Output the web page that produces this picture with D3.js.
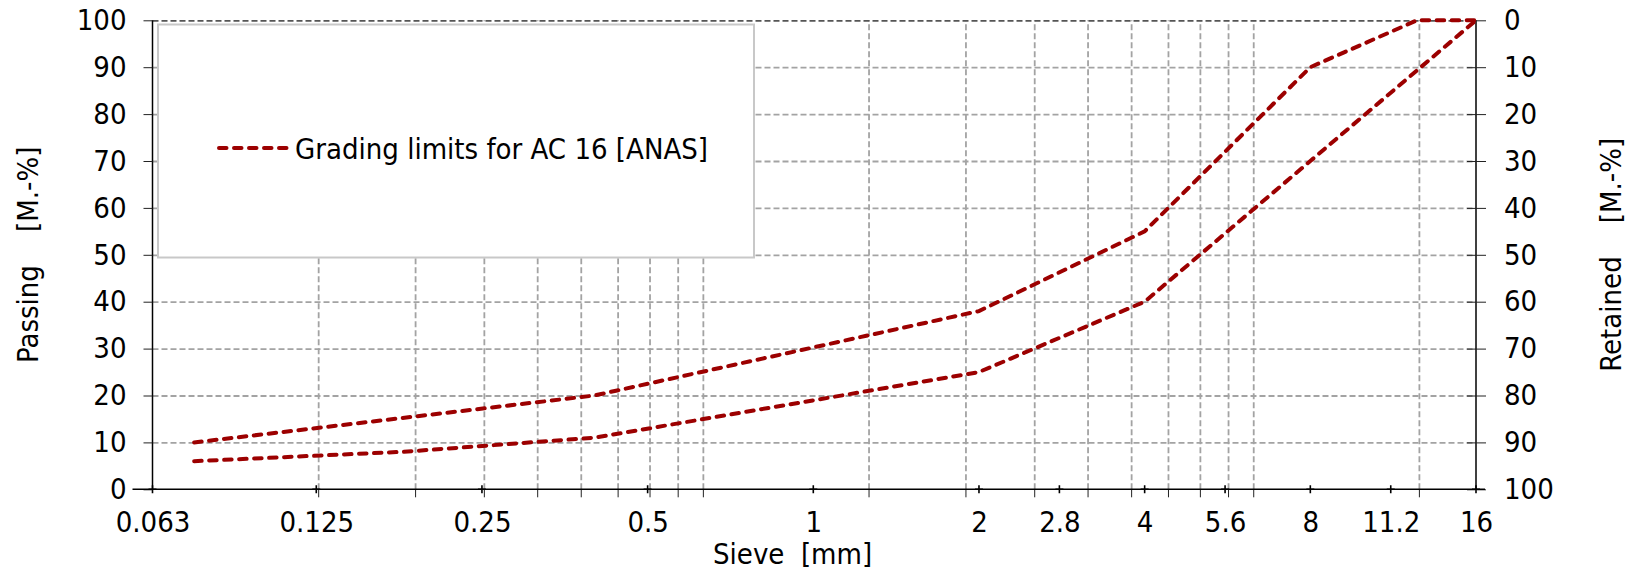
<!DOCTYPE html>
<html>
<head>
<meta charset="utf-8">
<script src="https://cdn.jsdelivr.net/npm/d3@7"></script>
<style>
  body { margin: 0; background: #fff; }
  svg text { font-family: "DejaVu Sans Condensed", "DejaVu Sans", sans-serif; font-stretch: condensed; fill: #000; }
</style>
</head>
<body>
<div id="chart"></div>
<script>
// Sieve sizes [mm] and passing [%] for the two grading limits
const upperSieves = [0.075, 0.4, 2, 4, 8, 12.5, 16];
const upperPassing = [10, 20, 38, 55, 90, 100, 100];
const lowerSieves = [0.075, 0.18, 0.4, 2, 4, 8, 16];
const lowerPassing = [6, 8, 11, 25, 40, 70, 100];

const sieveLabels = [0.063, 0.125, 0.25, 0.5, 1, 2, 2.8, 4, 5.6, 8, 11.2, 16];
const yTicks = [0, 10, 20, 30, 40, 50, 60, 70, 80, 90, 100];
const legendLabel = 'Grading limits for AC 16 [ANAS]';

const width = 1630, height = 572;
const plotLeft = 152.5, plotRight = 1476, plotTop = 20.3, plotBottom = 489.3;
const fontSize = 29;
const lineColor = '#9c0000';
const gridColor = '#a3a3a3';

const svg = d3.select('#chart').append('svg')
    .attr('width', width)
    .attr('height', height);

const x = d3.scaleLog().domain([0.063, 16]).range([plotLeft, plotRight]);
const y = d3.scaleLinear().domain([0, 100]).range([plotBottom, plotTop]);
const yRight = d3.scaleLinear().domain([100, 0]).range([plotBottom, plotTop]);

// log minor grid like a spreadsheet log axis starting at 0.063
const gridSieves = [0.063, 0.63, 6.3]
    .flatMap(b => d3.range(1, 10).map(k => b * k))
    .filter(v => v > 0.064 && v < 15.9);

// vertical grid
svg.append('g')
    .attr('transform', `translate(0,${plotBottom})`)
    .call(d3.axisBottom(x).tickValues(gridSieves).tickSize(-(plotBottom - plotTop)).tickFormat(''))
    .call(g => g.select('.domain').remove())
    .call(g => g.selectAll('line')
        .attr('stroke', gridColor).attr('stroke-width', 1.8).attr('stroke-dasharray', '6,3'));

// horizontal grid
svg.append('g')
    .attr('transform', `translate(${plotLeft},0)`)
    .call(d3.axisLeft(y).tickValues(yTicks.filter(v => v > 0)).tickSize(-(plotRight - plotLeft)).tickFormat(''))
    .call(g => g.select('.domain').remove())
    .call(g => g.selectAll('line')
        .attr('stroke', d => d === 100 ? '#555' : gridColor)
        .attr('stroke-width', 1.8).attr('stroke-dasharray', '6,3'));

// minor ticks below x axis
svg.append('g')
    .attr('transform', `translate(0,${plotBottom})`)
    .call(d3.axisBottom(x).tickValues(gridSieves).tickSize(8).tickFormat(''))
    .call(g => g.select('.domain').remove())
    .call(g => g.selectAll('line').attr('stroke', '#222').attr('stroke-width', 1));

// x labels
svg.append('g')
    .attr('transform', `translate(0,${plotBottom})`)
    .call(d3.axisBottom(x).tickValues(sieveLabels).tickSize(0).tickPadding(22)
        .tickFormat(d => String(d)))
    .call(g => g.select('.domain').remove())
    .call(g => g.selectAll('text').attr('font-size', fontSize).attr('fill', '#000')
        .style('font-family', null));

// "+" markers at the labelled sieves
svg.append('g').selectAll('path')
    .data(sieveLabels)
    .join('path')
    .attr('d', d => `M${x(d) - 4},${plotBottom}h8M${x(d)},${plotBottom - 4}v8`)
    .attr('stroke', '#000')
    .attr('stroke-width', 1.6);

// left axis
svg.append('g')
    .attr('transform', `translate(${plotLeft},0)`)
    .call(d3.axisLeft(y).tickValues(yTicks).tickSize(9).tickPadding(17))
    .call(g => g.select('.domain').attr('stroke', '#000').attr('stroke-width', 1.5)
        .attr('d', `M0,${plotTop}V${plotBottom}`))
    .call(g => g.selectAll('line').attr('stroke', '#222'))
    .call(g => g.selectAll('text').attr('font-size', fontSize).attr('fill', '#000')
        .style('font-family', null));

// right axis (retained)
svg.append('g')
    .attr('transform', `translate(${plotRight},0)`)
    .call(d3.axisRight(yRight).tickValues(yTicks).tickSize(10).tickPadding(18))
    .call(g => g.select('.domain').attr('stroke', '#000').attr('stroke-width', 1.5)
        .attr('d', `M0,${plotTop}V${plotBottom}`))
    .call(g => g.selectAll('line').attr('stroke', '#222').attr('x1', -9))
    .call(g => g.selectAll('text').attr('font-size', fontSize).attr('fill', '#000')
        .style('font-family', null));

// bottom axis line
svg.append('line')
    .attr('x1', plotLeft - 20).attr('x2', plotRight + 9)
    .attr('y1', plotBottom).attr('y2', plotBottom)
    .attr('stroke', '#000').attr('stroke-width', 1.5);

// legend box
svg.append('rect')
    .attr('x', 158).attr('y', 24.5)
    .attr('width', 596).attr('height', 233)
    .attr('fill', '#fff')
    .attr('stroke', '#c8c8c8')
    .attr('stroke-width', 2);

const line = d3.line()
    .x(d => x(d[0]))
    .y(d => y(d[1]));

const series = [
    d3.zip(upperSieves, upperPassing),
    d3.zip(lowerSieves, lowerPassing)
];

svg.append('g').selectAll('path')
    .data(series)
    .join('path')
    .attr('d', line)
    .attr('fill', 'none')
    .attr('stroke', lineColor)
    .attr('stroke-width', 4)
    .attr('stroke-linecap', 'round')
    .attr('stroke-dasharray', '7.5,7.5');

// legend entry
svg.append('line')
    .attr('x1', 219).attr('x2', 288)
    .attr('y1', 148).attr('y2', 148)
    .attr('stroke', lineColor)
    .attr('stroke-width', 4)
    .attr('stroke-linecap', 'round')
    .attr('stroke-dasharray', '7.5,7.5');

svg.append('text')
    .attr('x', 295).attr('y', 159)
    .attr('font-size', fontSize)
    .text(legendLabel);

// axis titles
svg.append('text')
    .attr('x', 713).attr('y', 564)
    .attr('font-size', fontSize)
    .style('white-space', 'pre')
    .text('Sieve  [mm]');

svg.append('text')
    .attr('transform', `translate(38,${(plotTop + plotBottom) / 2}) rotate(-90)`)
    .attr('text-anchor', 'middle')
    .attr('font-size', fontSize)
    .style('white-space', 'pre')
    .text('Passing    [M.-%]');

svg.append('text')
    .attr('transform', `translate(1621,${(plotTop + plotBottom) / 2}) rotate(-90)`)
    .attr('text-anchor', 'middle')
    .attr('font-size', fontSize)
    .style('white-space', 'pre')
    .text('Retained    [M.-%]');
</script>
</body>
</html>
